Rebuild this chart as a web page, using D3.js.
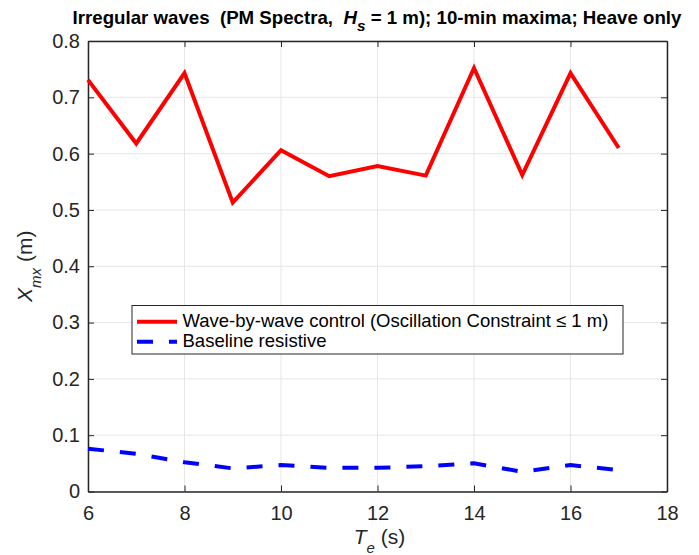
<!DOCTYPE html>
<html><head><meta charset="utf-8">
<script src="https://cdn.jsdelivr.net/npm/d3@7"></script>
<style>body{margin:0;background:#fff}svg{display:block}text{white-space:pre}</style>
</head><body><svg id="c" width="699" height="555"></svg>
<script>
const periods = [6,7,8,9,10,11,12,13,14,15,16,17];
const waveByWave = [0.731,0.618,0.743,0.513,0.606,0.560,0.578,0.561,0.752,0.562,0.743,0.610];
const baseline = [0.076,0.067,0.052,0.041,0.047,0.042,0.042,0.045,0.050,0.035,0.047,0.038];
const xTicks = [6,8,10,12,14,16,18];
const yTicks = [0,0.1,0.2,0.3,0.4,0.5,0.6,0.7,0.8];
const seriesNames = ["Wave-by-wave control (Oscillation Constraint \u2264 1 m)","Baseline resistive"];

const svg = d3.select("#c");
const L=88,R=667,T=41,B=491.5;
const x = d3.scaleLinear().domain([6,18]).range([L,R]);
const y = d3.scaleLinear().domain([0,0.8]).range([B,T]);
const font = "'Liberation Sans', Arial, sans-serif";
const axCol = "#262626";

// grid
svg.append("g").selectAll("line").data(xTicks).join("line")
  .attr("x1",d=>x(d)).attr("x2",d=>x(d)).attr("y1",T).attr("y2",B)
  .attr("stroke","#e6e6e6").attr("stroke-width",1);
svg.append("g").selectAll("line").data(yTicks).join("line")
  .attr("x1",L).attr("x2",R).attr("y1",d=>y(d)).attr("y2",d=>y(d))
  .attr("stroke","#e6e6e6").attr("stroke-width",1);

// axes
const xAxis = d3.axisBottom(x).tickValues(xTicks).tickSizeInner(-6).tickSizeOuter(0).tickPadding(14).tickFormat(d3.format("d"));
const gx = svg.append("g").attr("transform",`translate(0,${B})`).call(xAxis);
const xTop = d3.axisTop(x).tickValues(xTicks).tickSizeInner(-6).tickSizeOuter(0).tickFormat("");
const gxt = svg.append("g").attr("transform",`translate(0,${T})`).call(xTop);
const yAxis = d3.axisLeft(y).tickValues(yTicks).tickSizeInner(-6).tickSizeOuter(0).tickPadding(8).tickFormat(d=>d===0?"0":d3.format(".1f")(d));
const gy = svg.append("g").attr("transform",`translate(${L},0)`).call(yAxis);
const yRight = d3.axisRight(y).tickValues(yTicks).tickSizeInner(-6).tickSizeOuter(0).tickFormat("");
const gyr = svg.append("g").attr("transform",`translate(${R},0)`).call(yRight);
[gx,gxt,gy,gyr].forEach(g=>{
  g.select(".domain").attr("stroke",axCol).attr("stroke-width",1.5);
  g.selectAll(".tick line").attr("stroke",axCol).attr("stroke-width",1);
  g.selectAll("text").attr("font-family",font).attr("font-size",20).attr("fill",axCol);
});
gx.selectAll("text").attr("dy","0.71em");

// lines
const line = d3.line().x((d,i)=>x(periods[i])).y(d=>y(d));
svg.append("path").datum(waveByWave).attr("d",line).attr("fill","none")
  .attr("stroke","#ff0000").attr("stroke-width",4).attr("stroke-linejoin","miter");
svg.append("path").datum(baseline).attr("d",line).attr("fill","none")
  .attr("stroke","#0000ff").attr("stroke-width",4).attr("stroke-dasharray","16,16");

// title
const title = svg.append("text").attr("x",377).attr("y",23.5).attr("text-anchor","middle")
  .attr("font-family",font).attr("font-weight","bold").attr("font-size",17).attr("fill","#000");
title.append("tspan").text("Irregular waves  (PM Spectra,  ");
title.append("tspan").attr("font-style","italic").text("H");
title.append("tspan").attr("font-style","italic").attr("dy",7).attr("font-size",14).text("s");
title.append("tspan").attr("dy",-7).text(" = 1 m); 10-min maxima; Heave only");
const tw = title.node().getBBox().width;
title.attr("font-size", 17*610/tw);
title.selectAll("tspan").filter(function(){return this.getAttribute("font-size");}).attr("font-size",14*610/tw);

// x label
const xl = svg.append("text").attr("x",x(12)+2).attr("y",544).attr("text-anchor","middle")
  .attr("font-family",font).attr("font-size",21).attr("fill",axCol);
xl.append("tspan").attr("font-style","italic").text("T");
xl.append("tspan").attr("font-style","italic").attr("font-size",15).attr("dy",9).text("e");
xl.append("tspan").attr("dy",-9).text(" (s)");

// y label
const yl = svg.append("text").attr("transform",`translate(32,${y(0.4)}) rotate(-90)`).attr("text-anchor","middle")
  .attr("font-family",font).attr("font-size",21).attr("fill",axCol);
yl.append("tspan").attr("font-style","italic").text("X");
yl.append("tspan").attr("font-style","italic").attr("font-size",15).attr("dy",9).text("mx");
yl.append("tspan").attr("dy",-9).text(" (m)");

// legend
const lg = svg.append("g");
lg.append("rect").attr("x",132).attr("y",305.5).attr("width",491).attr("height",48.5)
  .attr("fill","#fff").attr("stroke",axCol).attr("stroke-width",1);
const rows=[{c:"#ff0000",dash:null,w:4},{c:"#0000ff",dash:"16,16",w:4}];
rows.forEach((r,i)=>{
  const yy = 321.7 + i*20;
  lg.append("line").attr("x1",137).attr("x2",177).attr("y1",yy).attr("y2",yy)
    .attr("stroke",r.c).attr("stroke-width",r.w).attr("stroke-dasharray",r.dash);
  lg.append("text").attr("x",182.5).attr("y",yy+5.5).attr("font-family",font).attr("font-size",18.5)
    .attr("fill","#000").text(seriesNames[i]);
});
</script></body></html>
